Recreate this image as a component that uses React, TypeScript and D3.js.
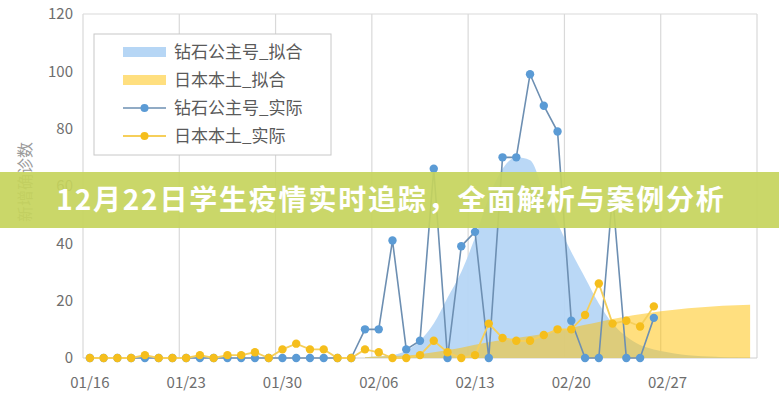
import React from "react";
import * as d3 from "d3";

// ---- data ----
const startDate = new Date(2020, 0, 16);
const endDate = new Date(2020, 2, 5); // exclusive end of the axis
const tickLabels = ["01/16", "01/23", "01/30", "02/06", "02/13", "02/20", "02/27"];
const yTicks = [0, 20, 40, 60, 80, 100, 120];

// actual daily values (from 01/16)
const diamondActual = [
  0, 0, 0, 0, 0, 0, 0, 0, 0, 0, 0, 0, 0, 0, 0, 0, 0, 0, 0, 0,
  10, 10, 41, 3, 6, 66, 0, 39, 44, 0, 70, 70, 99, 88, 79, 13, 0, 0, 57, 0, 0, 14,
];
const japanActual = [
  0, 0, 0, 0, 1, 0, 0, 0, 1, 0, 1, 1, 2, 0, 3, 5, 3, 3, 0, 0,
  3, 2, 0, 0, 1, 6, 2, 0, 1, 12, 7, 6, 6, 8, 10, 10, 15, 26, 12, 13, 11, 18,
];
// fitted values (from 02/05, index 20)
const fitStartIndex = 20;
const diamondFit = [
  0.3, 0.6, 1, 2.5, 6, 12, 21, 30, 42, 56, 66, 70, 69, 58, 47, 37, 28, 19, 12, 7.5,
  4.5, 3, 2, 1.2, 0.8, 0.5, 0.3, 0.2, 0.1,
];
const japanFit = [
  0.3, 0.5, 0.7, 0.9, 1.3, 2, 2.8, 3.6, 4.6, 5.5, 6.3, 7, 7.7, 8.5, 9.5, 10.5, 11.6,
  12.6, 13.6, 14.5, 15.3, 16, 16.6, 17.1, 17.5, 17.9, 18.2, 18.4, 18.6,
];
const legendLabels = ["钻石公主号_拟合", "日本本土_拟合", "钻石公主号_实际", "日本本土_实际"];
const yTitle = "新增确诊数";
const bannerTitle = "12月22日学生疫情实时追踪，全面解析与案例分析";

// ---- styles ----
const W = 779;
const H = 400;
const M = { left: 83, right: 757, top: 14, bottom: 358 };
const FONT = "'Noto Sans CJK SC', 'Noto Sans', sans-serif";
const BLUE = "#5b9bd5";
const BLUE_LINE = "#6d8fb2";
const GOLD = "#f5be1c";
const GOLD_LINE = "#f6cf5a";
const BLUE_AREA = "#b6d6f5";
const GOLD_AREA = "#ffc000";

export default function App() {
  const x = d3.scaleTime().domain([startDate, endDate]).range([M.left, M.right]);
  const y = d3.scaleLinear().domain([0, 120]).range([M.bottom, M.top]);
  const dayX = (i: number) => x(d3.timeHour.offset(d3.timeDay.offset(startDate, i), 12));
  const weekTicks = d3.timeDay.range(startDate, d3.timeDay.offset(endDate, 1), 7);

  const area = d3
    .area<number>()
    .x((_, i) => dayX(i + fitStartIndex))
    .y0(y(0))
    .y1((d) => y(d))
    .curve(d3.curveMonotoneX);
  const line = d3
    .line<number>()
    .x((_, i) => dayX(i))
    .y((d) => y(d));

  const legendX = 94;
  const legendY = 34;
  const rowY = (k: number) => legendY + 18 + k * 28;

  return (
    <svg width={W} height={H} style={{ position: "absolute", left: 0, top: 0, background: "#fff" }}>
      {/* grid */}
      {weekTicks.map((t, i) => (
        <line key={"g" + i} x1={x(t)} x2={x(t)} y1={M.top} y2={M.bottom} stroke="#d9d9d9" strokeWidth={1.2} />
      ))}
      <line x1={M.left} x2={M.right} y1={M.top} y2={M.top} stroke="#d9d9d9" strokeWidth={1.2} />
      <line x1={M.left} x2={M.right} y1={M.bottom} y2={M.bottom} stroke="#d0d0d0" strokeWidth={1.2} />

      {/* fitted areas */}
      <path d={area(diamondFit) || ""} fill={BLUE_AREA} opacity={0.95} />
      <path d={area(japanFit) || ""} fill={GOLD_AREA} opacity={0.5} />

      {/* actual lines */}
      <path d={line(diamondActual) || ""} fill="none" stroke={BLUE_LINE} strokeWidth={1.6} />
      {diamondActual.map((v, i) => (
        <circle key={"b" + i} cx={dayX(i)} cy={y(v)} r={4.2} fill={BLUE} />
      ))}
      <path d={line(japanActual) || ""} fill="none" stroke={GOLD_LINE} strokeWidth={1.8} />
      {japanActual.map((v, i) => (
        <circle key={"y" + i} cx={dayX(i)} cy={y(v)} r={4.2} fill={GOLD} />
      ))}

      {/* y ticks */}
      {yTicks.map((t) => (
        <text key={"yt" + t} x={73} y={y(t)} dy="0.35em" textAnchor="end" fontFamily={FONT} fontSize={15} fill="#6e6e6e">
          {t}
        </text>
      ))}
      {/* x ticks */}
      {tickLabels.map((lab, i) => (
        <text key={"xt" + i} x={dayX(i * 7)} y={388} textAnchor="middle" fontFamily={FONT} fontSize={15} fill="#6e6e6e">
          {lab}
        </text>
      ))}
      {/* y title */}
      <text
        transform={`translate(31,${182}) rotate(-90)`}
        textAnchor="middle"
        fontFamily={FONT}
        fontSize={16}
        fill="#9a9a9a"
      >
        {yTitle}
      </text>

      {/* legend */}
      <rect x={legendX} y={legendY} width={237} height={121} fill="#fff" stroke="#c8c8c8" strokeWidth={1} />
      <rect x={123} y={rowY(0) - 5} width={43} height={10} fill={BLUE_AREA} />
      <rect x={123} y={rowY(1) - 5} width={43} height={10} fill={GOLD_AREA} opacity={0.5} />
      <line x1={123} x2={166} y1={rowY(2)} y2={rowY(2)} stroke={BLUE_LINE} strokeWidth={1.6} />
      <circle cx={144.5} cy={rowY(2)} r={4} fill={BLUE} />
      <line x1={123} x2={166} y1={rowY(3)} y2={rowY(3)} stroke={GOLD_LINE} strokeWidth={1.8} />
      <circle cx={144.5} cy={rowY(3)} r={4} fill={GOLD} />
      {legendLabels.map((lab, k) => (
        <text key={"lg" + k} x={174} y={rowY(k)} dy="0.35em" fontFamily={FONT} fontSize={17} fill="#5a5a5a">
          {lab}
        </text>
      ))}

      {/* banner */}
      <rect x={0} y={172} width={W} height={56} fill="#c6d45c" opacity={0.92} />
      <text
        x={391}
        y={200}
        dy="0.36em"
        textAnchor="middle"
        fontFamily={FONT}
        fontWeight={700}
        fontSize={28}
        letterSpacing={1.8}
        fill="#ffffff"
      >
        {bannerTitle}
      </text>
    </svg>
  );
}
